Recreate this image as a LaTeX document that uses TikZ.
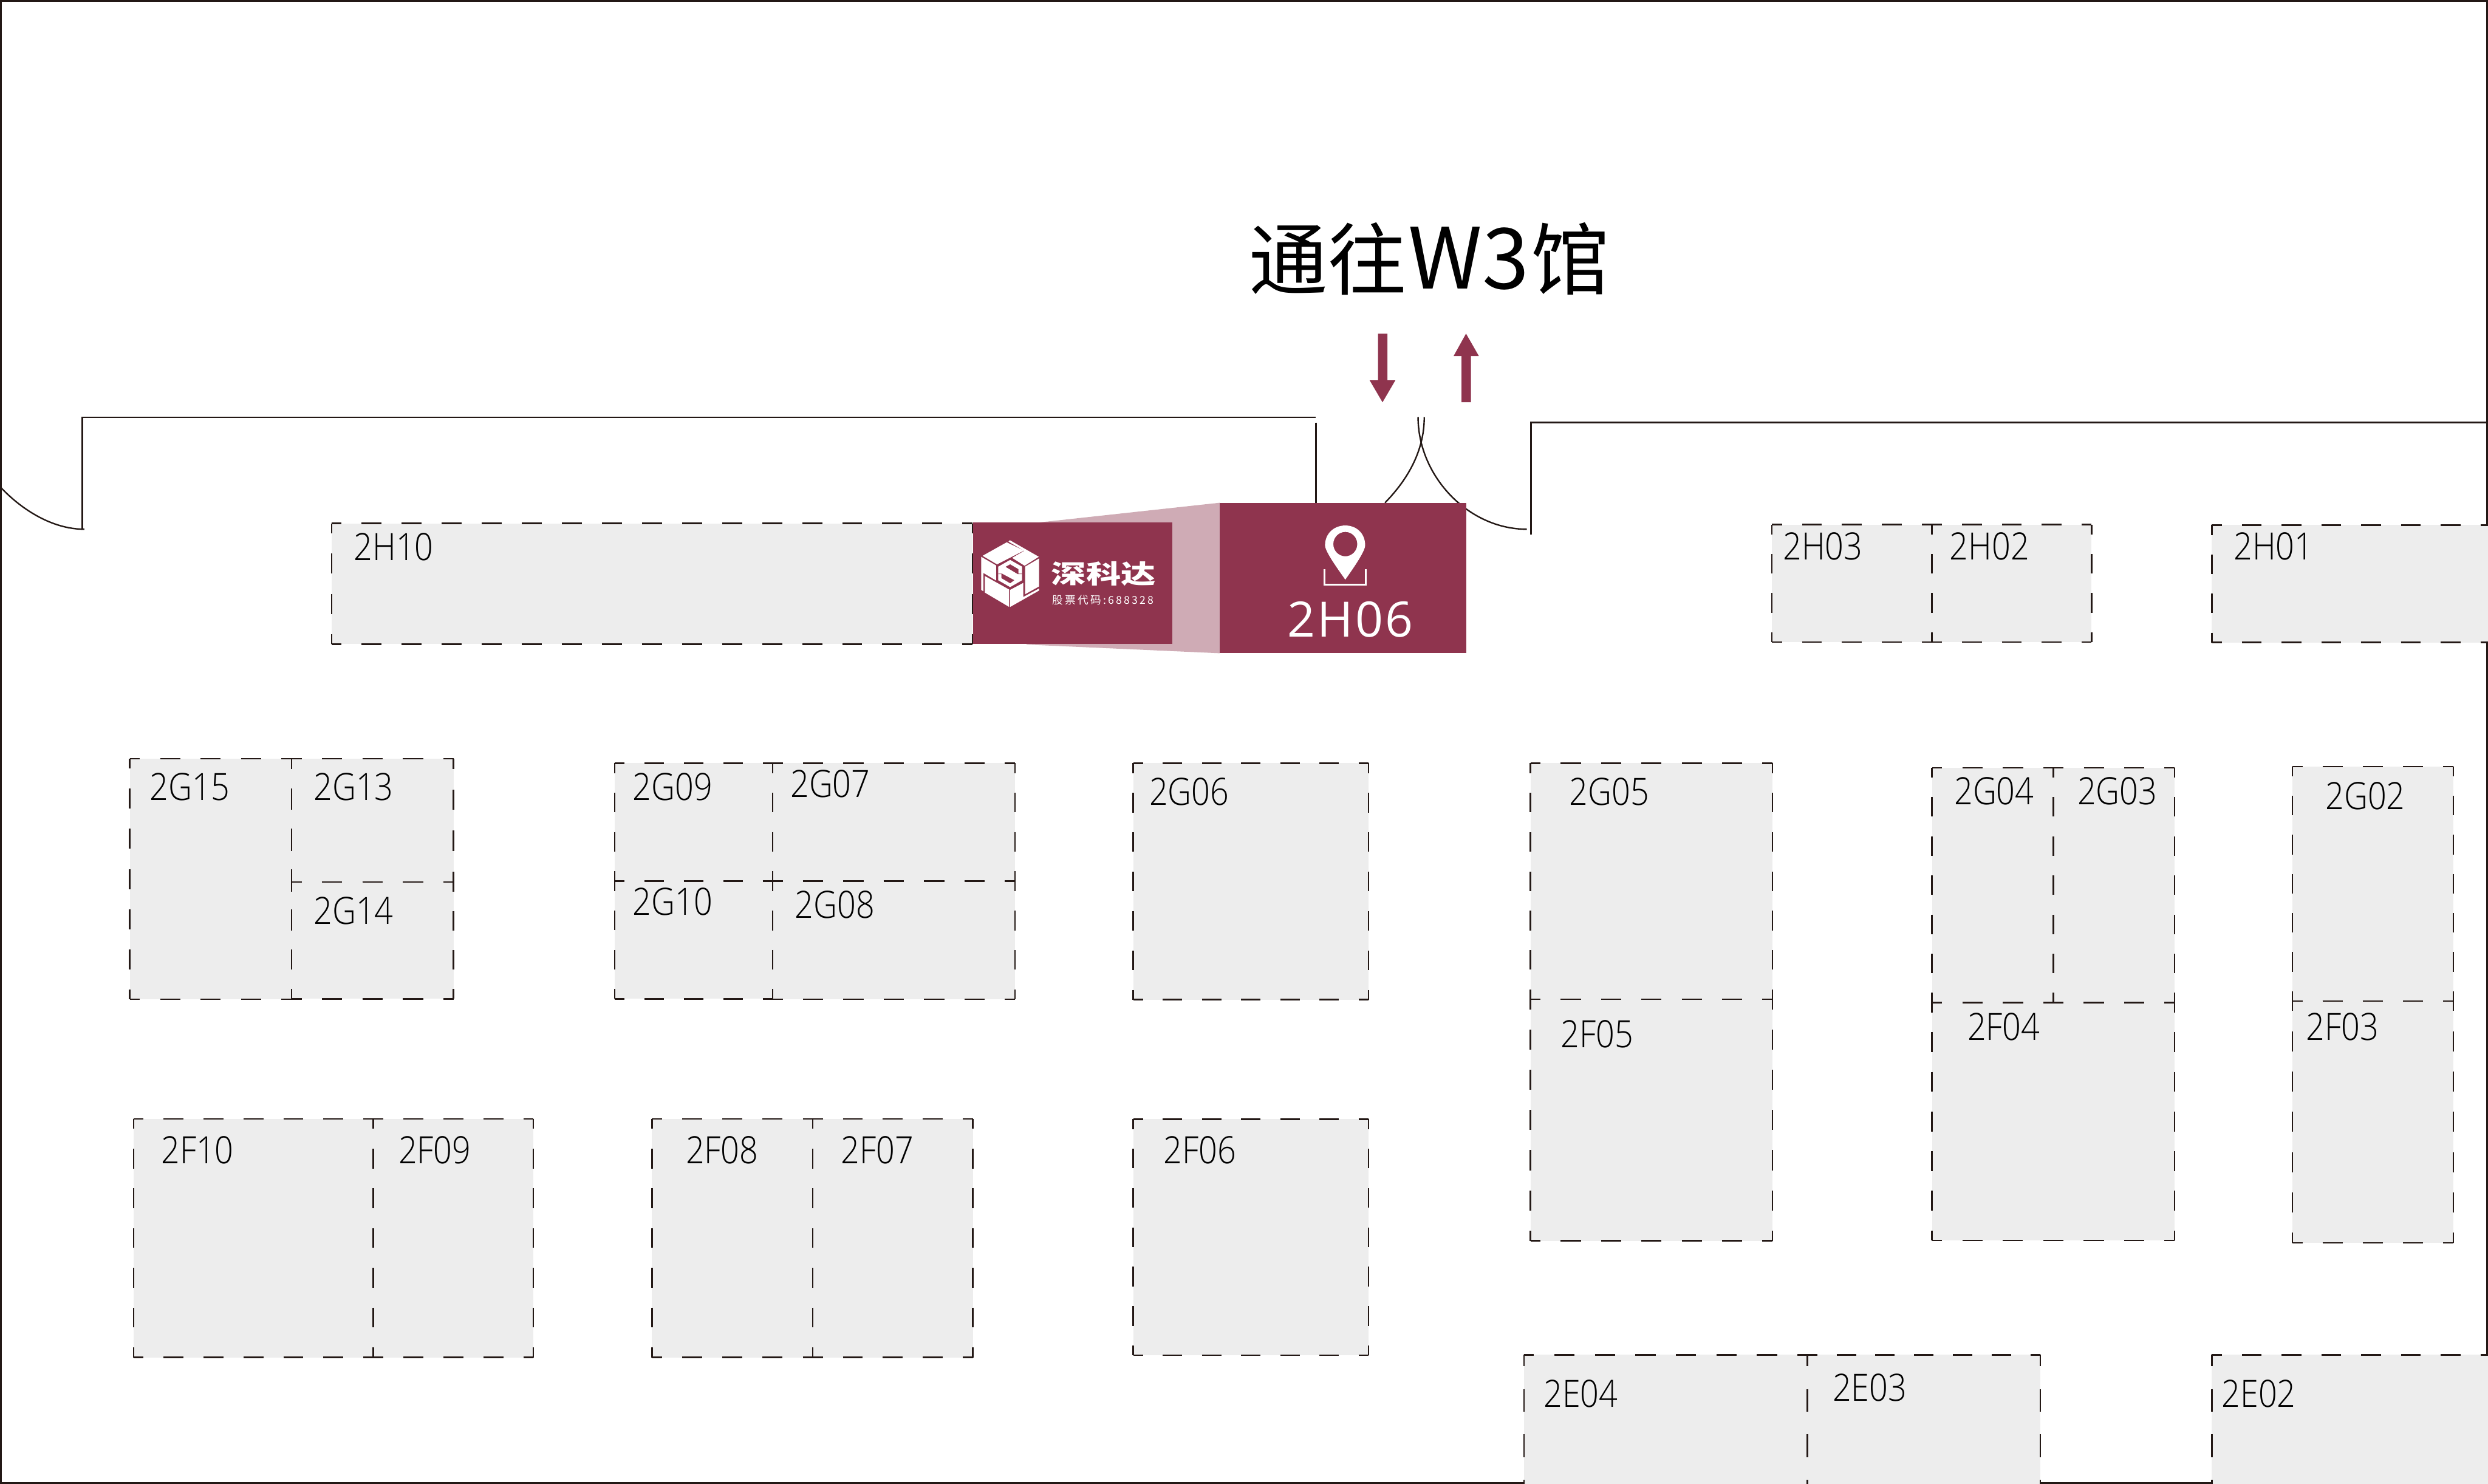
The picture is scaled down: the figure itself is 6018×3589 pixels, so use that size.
\documentclass[tikz,border=0pt]{standalone}
\usepackage{fontspec}
\setmainfont{Open Sans}
\newfontfamily\labfont[FakeStretch=0.87]{Open Sans Light}
\newfontfamily\signfont[LetterSpace=4]{Open Sans}
\newfontfamily\cjkfont{Noto Sans CJK SC}
\newfontfamily\cjkspaced[LetterSpace=18]{Noto Sans CJK SC}
\definecolor{maroon}{HTML}{8F344E}
\definecolor{pinkside}{HTML}{CFABB5}
\definecolor{boothgray}{HTML}{EDEDED}
\definecolor{inkline}{HTML}{231815}
\newcommand\pxfont[1]{\fontsize{\fpeval{#1*0.24}pt}{\fpeval{#1*0.24}pt}\selectfont}
% one side of a booth: half a dash at each corner, whole dashes between
\newcommand\dashside[4]{%
  \pgfmathsetmacro\sidelen{abs(#3-#1)+abs(#4-#2)}%
  \pgfmathsetmacro\sideper{\sidelen/max(1,round(\sidelen/96))}%
  \pgfmathsetmacro\dashpt{\sideper*0.12}%
  \draw[boothline,dash pattern=on \dashpt pt off \dashpt pt,dash phase=\dashpt/2*1pt] (#1,#2) -- (#3,#4);%
}
\tikzset{
  x=0.24pt,y=-0.24pt,
  wall/.style={draw=inkline,line width=0.84pt},
  boothline/.style={draw=inkline,line width=0.9pt},
  boothfill/.style={fill=boothgray},
  boothlabel/.style={anchor=base west,inner sep=0pt,text=black,font=\labfont\pxfont{91}},
  logoface/.style={fill=white},
  logocut/.style={fill=maroon},
  flow/.style={fill=maroon}
}
\begin{document}
\begin{tikzpicture}
\useasboundingbox (0,0) rectangle (6018,3589);
\clip (0,0) rectangle (6018,3589);
\fill[white] (0,0) rectangle (6018,3589);
% outer wall
\draw[wall] (2,2) rectangle (6016,3587);
% booths
\def\boothlist{802/1266/2352/1558,
 4286/1269/4673/1553, 4673/1269/5059/1553, 5350/1270/6120/1554,
 314/1835/705/2417, 705/1835/1097/2133, 705/2133/1097/2416,
 1487/1846/1869/2131, 1487/2131/1869/2416, 1869/1846/2455/2131, 1869/2131/2455/2417,
 2741/1846/3310/2418,
 3702/1846/4287/2417, 3702/2417/4287/3001,
 4673/1857/4967/2425, 4967/1857/5260/2425, 4673/2425/5260/3000,
 5545/1854/5934/2421, 5545/2421/5934/3006,
 323/2706/903/3283, 903/2706/1290/3283,
 1577/2706/1966/3283, 1966/2706/2353/3283,
 2741/2707/3310/3278,
 3686/3277/4372/3607, 4372/3277/4935/3607, 5350/3277/6120/3607}
\foreach \xa/\ya/\xb/\yb in \boothlist { \fill[boothfill] (\xa,\ya) rectangle (\xb,\yb); }
\foreach \xa/\ya/\xb/\yb in \boothlist {
  \dashside{\xa}{\ya}{\xb}{\ya}
  \dashside{\xa}{\yb}{\xb}{\yb}
  \dashside{\xa}{\ya}{\xa}{\yb}
  \dashside{\xb}{\ya}{\xb}{\yb}
}
% labels
\foreach \t/\x/\y in {2H10/855/1355, 2H03/4312/1354, 2H02/4715/1354, 2H01/5402/1354,
 2G15/362/1936, 2G13/758/1936, 2G14/758/2236,
 2G09/1530/1936, 2G07/1911/1929, 2G10/1530/2214, 2G08/1922/2221,
 2G06/2779/1947, 2G05/3795/1947, 2F05/3775/2533,
 2G04/4726/1946, 2G03/5024/1946, 2F04/4758/2516, 2G02/5624/1958, 2F03/5577/2516,
 2F10/389/2814, 2F09/963/2814, 2F08/1658/2814, 2F07/2034/2814, 2F06/2814/2815,
 2E04/3733/3404, 2E03/4432/3389, 2E02/5373/3404}
 { \node[boothlabel] (label\t) at (\x,\y) {\t}; }
% inner walls
\coordinate (wa) at (199,1280); \coordinate (wb) at (199,1009); \coordinate (wc) at (3183,1009);
\draw[wall] (wa) -- (wb) -- (wc);
\coordinate (wd) at (3183,1022); \coordinate (we) at (3183,1216);
\draw[wall] (wd) -- (we);
\coordinate (wf) at (3703,1293); \coordinate (wg) at (3703,1022); \coordinate (wh) at (6018,1022);
\draw[wall] (wf) -- (wg) -- (wh);
% doors
\draw[wall] (2,1179) .. controls (45,1225) and (120,1280) .. (204,1280);
\draw[wall] (3445,1009) .. controls (3445,1100) and (3395,1170) .. (3350,1216);
\draw[wall] (3430,1009) .. controls (3430,1150) and (3550,1280) .. (3693,1280);
% stand
\fill[pinkside] (2510,1264) -- (2950,1216) -- (2950,1580) -- (2483,1559) -- cycle;
\fill[maroon] (2353,1264) rectangle (2835,1558);
\fill[maroon] (2950,1216) rectangle (3546,1580);
% logo
\begin{scope}[shift={(2360,1300)},x=0.08pt,y=-0.08pt]
  \fill[logoface] (50,133) -- (225,35) -- (350,95) -- (155,195) -- cycle;
  \fill[logoface] (238,30) -- (248,20) -- (458,140) -- (355,205) -- (265,148) -- (352,97) -- cycle;
  \fill[logoface] (40,140) -- (148,203) -- (148,312) -- (55,257) -- (55,390) -- (40,380) -- cycle;
  \fill[logoface] (460,152) -- (460,355) -- (358,412) -- (358,212) -- cycle;
  \fill[logoface] (67,280) -- (243,378) -- (243,504) -- (67,400) -- cycle;
  \fill[logoface] (250,380) -- (345,330) -- (345,432) -- (460,370) -- (460,385) -- (250,504) -- cycle;
  \fill[logoface] (163,212) -- (250,163) -- (337,212) -- (337,310) -- (250,360) -- (163,310) -- cycle;
  \fill[logocut] (217,213) -- (250,195) -- (310,230) -- (310,262) -- (337,262) -- (337,266) -- (306,266) -- cycle;
  \fill[logocut] (163,262) -- (190,262) -- (280,310) -- (250,332) -- (187,295) -- (187,266) -- (163,266) -- cycle;
\end{scope}
\node[anchor=base west,inner sep=0pt,text=white] (brand) at (2542,1411)
  {\scalebox{1.36}[1]{\cjkfont\bfseries\pxfont{62}深科达}};
\node[anchor=base west,inner sep=0pt,text=white] (stock) at (2545,1461)
  {\cjkspaced\pxfont{26}股票代码:688328};
% pin
\begin{scope}[xshift=-1.44pt]
\fill[white,even odd rule] (3260,1402) .. controls (3247,1383) and (3211,1335) .. (3211,1319)
  .. controls (3211,1290) and (3233,1271) .. (3260,1271)
  .. controls (3287,1271) and (3308,1290) .. (3308,1319)
  .. controls (3308,1335) and (3273,1383) .. (3260,1402) -- cycle
  (3260,1316) ellipse [x radius=29,y radius=29.5];
\draw[white,line width=0.96pt] (3210,1376) -- (3210,1414) -- (3310,1414) -- (3310,1376);
\end{scope}
\node[anchor=base west,inner sep=0pt,text=white] (stand) at (3113,1540) {\signfont\pxfont{118}2H06};
% title
\node[anchor=base west,inner sep=0pt,text=black] (title) at (3021,698)
  {\cjkfont\pxfont{190}通往\kern1pt{\pxfont{204}W3}\kern1pt 馆};
% arrows
\fill[flow] (3333,807) -- (3356,807) -- (3356,920) -- (3375,920) -- (3344,973) -- (3313,920) -- (3333,920) -- cycle;
\fill[flow] (3535,973) -- (3558,973) -- (3558,861) -- (3577,861) -- (3546,807) -- (3516,861) -- (3535,861) -- cycle;
\end{tikzpicture}
\end{document}
